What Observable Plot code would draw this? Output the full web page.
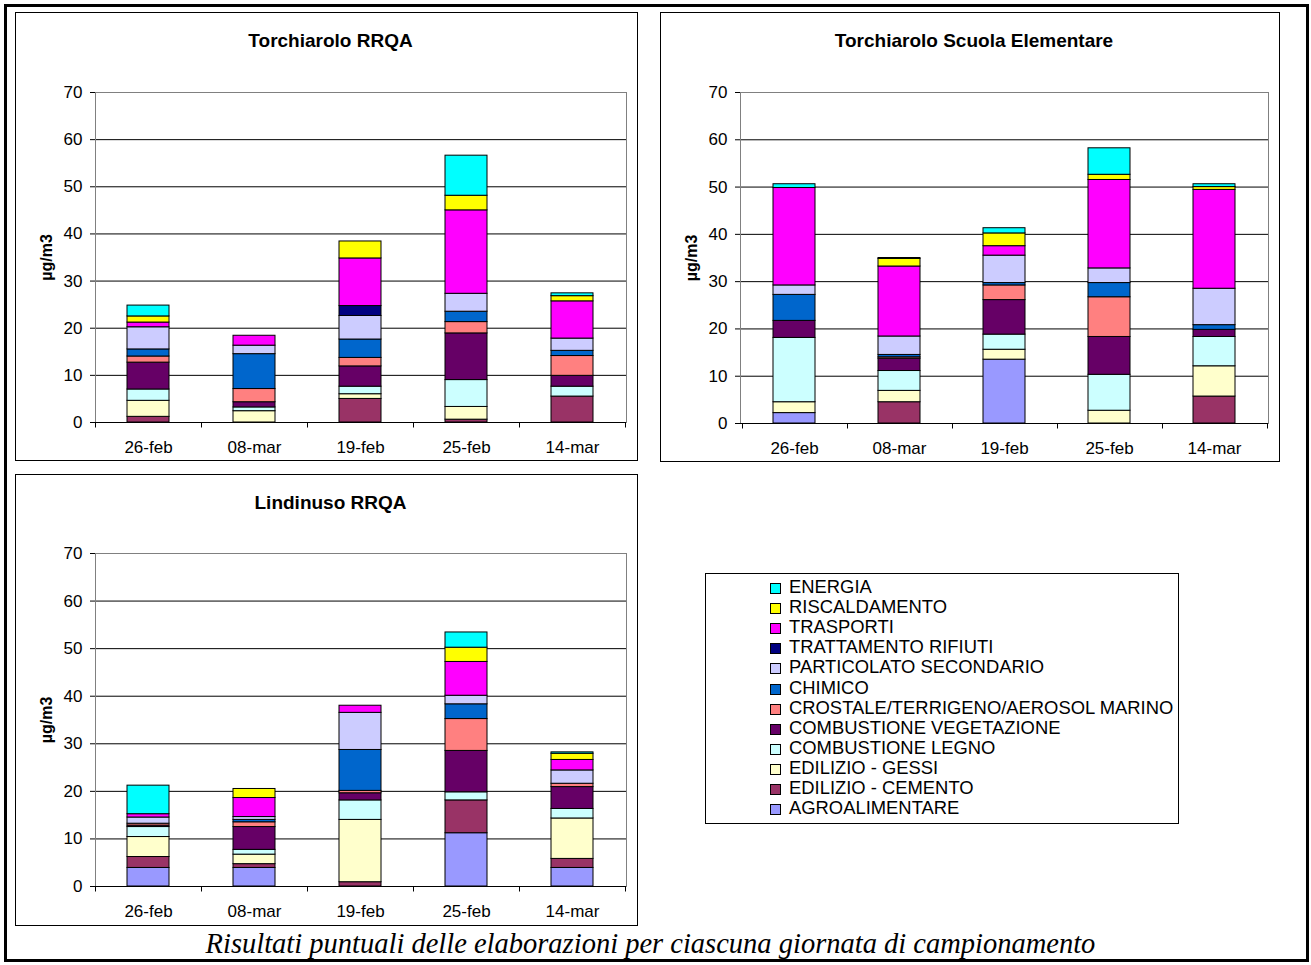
<!DOCTYPE html>
<html><head><meta charset="utf-8">
<script src="https://cdn.jsdelivr.net/npm/d3@7"></script>
<script src="https://cdn.jsdelivr.net/npm/@observablehq/plot@0.6"></script>
<style>
body{margin:0;background:#fff;}
#page{position:relative;width:1311px;height:965px;font-family:"Liberation Sans",Arial,sans-serif;overflow:hidden;}
.abs{position:absolute;box-sizing:border-box;}
</style></head><body><div id="page"></div>
<script>
const dates = ["26-feb", "08-mar", "19-feb", "25-feb", "14-mar"];
// stacking order, bottom -> top
const sources = ["AGROALIMENTARE", "EDILIZIO - CEMENTO", "EDILIZIO - GESSI", "COMBUSTIONE LEGNO",
  "COMBUSTIONE VEGETAZIONE", "CROSTALE/TERRIGENO/AEROSOL MARINO", "CHIMICO", "PARTICOLATO SECONDARIO",
  "TRATTAMENTO RIFIUTI", "TRASPORTI", "RISCALDAMENTO", "ENERGIA"];
const colors = ["#9999FF", "#993366", "#FFFFCC", "#CCFFFF", "#660066", "#FF8080", "#0066CC", "#CCCCFF",
  "#000080", "#FF00FF", "#FFFF00", "#00FFFF"];
const yTicks = [0, 10, 20, 30, 40, 50, 60, 70];

// one row per date, values in the order of `sources`
const torchiaroloRRQA = [
  [0, 1.2, 3.4, 2.4, 5.7, 1.3, 1.5, 4.7, 0, 1.0, 1.3, 2.3],
  [0, 0, 2.4, 0.8, 1.1, 2.8, 7.4, 1.8, 0, 2.1, 0, 0],
  [0, 5.0, 1.0, 1.6, 4.3, 1.8, 3.9, 5.0, 2.1, 10.1, 3.6, 0],
  [0, 0.6, 2.7, 5.7, 9.9, 2.4, 2.2, 3.8, 0, 17.7, 3.1, 8.5],
  [0, 5.5, 0, 2.1, 2.3, 4.2, 1.1, 2.6, 0, 7.9, 1.1, 0.6]
];
const torchiaroloScuola = [
  [2.2, 0, 2.3, 13.6, 3.6, 0, 5.5, 2.0, 0, 20.6, 0, 0.8],
  [0, 4.5, 2.4, 4.2, 2.6, 0.3, 0.5, 3.9, 0, 14.8, 1.6, 0.2],
  [13.5, 0, 2.1, 3.2, 7.3, 3.1, 0.5, 5.8, 0, 2.0, 2.7, 1.1],
  [0, 0, 2.7, 7.6, 8.0, 8.4, 3.0, 3.1, 0, 18.7, 1.1, 5.6],
  [0, 5.7, 6.4, 6.2, 1.5, 0, 1.0, 7.7, 0, 20.9, 0.6, 0.6]
];
const lindinusoRRQA = [
  [3.9, 2.3, 4.2, 2.1, 0.3, 0.4, 0, 1.3, 0, 0.7, 0, 6.0],
  [3.9, 0.8, 2.0, 1.0, 4.8, 1.0, 0.5, 0.6, 0, 4.0, 1.9, 0],
  [0, 0.9, 13.1, 4.1, 1.5, 0.5, 8.6, 7.8, 0, 1.5, 0, 0],
  [11.2, 6.9, 0, 1.7, 8.7, 6.7, 3.1, 1.8, 0, 7.1, 3.0, 3.2],
  [3.9, 1.9, 8.5, 2.0, 4.6, 0.7, 0, 2.8, 0, 2.2, 1.3, 0.3]
];
const titles = ["Torchiarolo RRQA", "Torchiarolo Scuola Elementare", "Lindinuso RRQA"];
const yLabel = "µg/m3";
const caption = "Risultati puntuali delle elaborazioni per ciascuna giornata di campionamento";

const page = document.getElementById("page");
function addBox(l, t, w, h, border) {
  const d = document.createElement("div");
  d.className = "abs";
  Object.assign(d.style, {left: l + "px", top: t + "px", width: w + "px", height: h + "px"});
  if (border) d.style.border = border;
  page.appendChild(d);
  return d;
}

function boundaryTicks(index, scales, values, dims) {
  const x = scales.x, y = scales.y;
  const g = d3.create("svg:g").attr("stroke", "#000").attr("stroke-width", 1);
  let step, bw;
  if (typeof x.step === "function") { step = x.step(); bw = x.bandwidth(); }
  else { step = (dims.width - dims.marginLeft - dims.marginRight) / dates.length; bw = step * 0.4; }
  const y0 = Math.round(y(0)) + 0.5;
  const bounds = dates.map(d => x(d) - (step - bw) / 2);
  bounds.push(x(dates[dates.length - 1]) + bw + (step - bw) / 2);
  for (const bx of bounds) {
    const xx = Math.round(bx) + 0.5;
    g.append("line").attr("x1", xx).attr("x2", xx).attr("y1", y0).attr("y2", y0 + 5);
  }
  return g.node();
}

function chart(rows, title, W, H, m) {
  const data = [];
  rows.forEach((vals, i) => vals.forEach((v, j) => {
    if (v > 0) data.push({date: dates[i], source: sources[j], value: v});
  }));
  const plotCenter = m.l + (W - m.l - m.r) / 2;
  return Plot.plot({
    width: W, height: H,
    marginLeft: m.l, marginRight: m.r, marginTop: m.t, marginBottom: m.b,
    style: {fontFamily: "'Liberation Sans', Arial, sans-serif", fontSize: "17px", background: "transparent", color: "#000", overflow: "visible"},
    x: {domain: dates, paddingInner: 0.6, paddingOuter: 0.3, label: null},
    y: {domain: [0, 70], label: null},
    color: {domain: sources, range: colors},
    marks: [
      Plot.ruleY(yTicks.slice(1, -1), {stroke: "#000", strokeWidth: 1}),
      Plot.frame({stroke: "#808080", strokeWidth: 1}),
      Plot.barY(data, Plot.stackY({order: sources}, {x: "date", y: "value", fill: "source", stroke: "#000", strokeWidth: 1})),
      Plot.ruleY([0], {stroke: "#000", strokeWidth: 1}),
      Plot.axisY({ticks: yTicks, tickSize: 5, tickPadding: 8, fontSize: 17, label: null, stroke: "#000"}),
      Plot.axisX({tickSize: 0, tickPadding: 18, fontSize: 17, label: null}),
      boundaryTicks,
      Plot.text([title], {frameAnchor: "top", lineAnchor: "middle", dy: -(m.t - 28), dx: (W / 2 + 4) - plotCenter, fontWeight: "bold", fontSize: 19}),
      Plot.text([yLabel], {frameAnchor: "left", textAnchor: "middle", dx: -(m.l - 31), rotate: -90, fontWeight: "bold", fontSize: 16})
    ]
  });
}

// outer frame
addBox(4, 4, 1305, 958, "3px solid #000");

const boxes = [
  {rows: torchiaroloRRQA, l: 15, t: 12, w: 622, h: 448, m: {l: 80, r: 11, t: 80, b: 38}},
  {rows: torchiaroloScuola, l: 660, t: 12, w: 619, h: 449, m: {l: 80, r: 11, t: 80, b: 38}},
  {rows: lindinusoRRQA, l: 15, t: 474, w: 622, h: 451, m: {l: 80, r: 11, t: 79, b: 39}}
];
boxes.forEach((b, i) => {
  const holder = addBox(b.l, b.t, b.w, b.h, null);
  holder.appendChild(chart(b.rows, titles[i], b.w, b.h, b.m));
  addBox(b.l, b.t, b.w + 1, b.h + 1, "1px solid #000");
});

// legend
const leg = addBox(705, 573, 474, 251, "1px solid #000");
sources.slice().reverse().forEach((s, i) => {
  const c = colors[sources.indexOf(s)];
  const row = document.createElement("div");
  row.className = "abs";
  Object.assign(row.style, {left: "64px", top: (3 + i * 20.1) + "px", height: "20px", lineHeight: "20px",
    fontSize: "18.4px", whiteSpace: "nowrap", color: "#000"});
  row.innerHTML = `<span style="display:inline-block;width:11px;height:11px;box-sizing:border-box;border:1px solid #000;background:${c};margin-right:8px;vertical-align:-1px"></span>${s}`;
  leg.appendChild(row);
});

// caption
const cap = addBox(0, 926, 1301, 36, null);
Object.assign(cap.style, {textAlign: "center", fontFamily: "'Liberation Serif', 'Times New Roman', serif",
  fontStyle: "italic", fontSize: "28.5px", lineHeight: "36px", color: "#000"});
cap.textContent = caption;
</script>
</body></html>
